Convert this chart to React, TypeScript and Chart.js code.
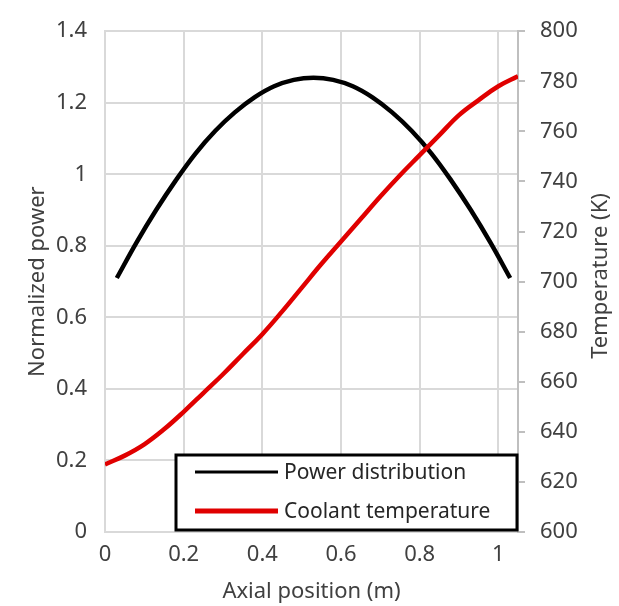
import React, { useEffect, useRef } from "react";
import { Chart, registerables } from "chart.js";

Chart.register(...registerables);

const powerX = [0.03, 0.08, 0.13, 0.18, 0.23, 0.28, 0.33, 0.38, 0.43, 0.48, 0.53, 0.58, 0.63, 0.68, 0.73, 0.78, 0.83, 0.88, 0.93, 0.98, 1.03];
const powerY = [0.71, 0.809, 0.9, 0.983, 1.058, 1.121, 1.173, 1.215, 1.246, 1.264, 1.27, 1.264, 1.246, 1.215, 1.173, 1.121, 1.058, 0.983, 0.9, 0.809, 0.71];

const tempX = [0, 0.05, 0.1, 0.15, 0.2, 0.25, 0.3, 0.35, 0.4, 0.45, 0.5, 0.55, 0.6, 0.65, 0.7, 0.75, 0.8, 0.85, 0.9, 0.95, 1.0, 1.05];
const tempY = [627, 630.5, 635, 641, 648, 655.5, 663, 671, 679, 688, 697.5, 707, 716, 725, 734, 742.5, 750.5, 758.5, 766.5, 772.5, 778, 782];

const seriesLabels = ["Power distribution", "Coolant temperature"];
const xTitle = "Axial position (m)";
const yTitle = "Normalized power";
const y1Title = "Temperature (K)";

const FONT = "'Noto Sans', sans-serif";

const legendPlugin = {
  id: "boxLegend",
  afterDraw(chart: any) {
    const ctx = chart.ctx;
    const area = chart.chartArea;
    const x0 = 176, y0 = 455;
    const x1 = area.right - 1, y1 = area.bottom - 2;
    ctx.save();
    ctx.fillStyle = "#ffffff";
    ctx.fillRect(x0, y0, x1 - x0, y1 - y0);
    ctx.lineWidth = 3;
    ctx.strokeStyle = "#000000";
    ctx.strokeRect(x0, y0, x1 - x0, y1 - y0);
    const rows = [472, 511];
    chart.data.datasets.forEach((ds: any, i: number) => {
      ctx.beginPath();
      ctx.strokeStyle = ds.borderColor;
      ctx.lineWidth = i === 0 ? 3 : 5;
      ctx.moveTo(195, rows[i]);
      ctx.lineTo(278, rows[i]);
      ctx.stroke();
      ctx.fillStyle = "#262626";
      ctx.font = `21px ${FONT}`;
      ctx.textBaseline = "middle";
      ctx.textAlign = "left";
      ctx.fillText(ds.label, 284, rows[i] + 1);
    });
    // right axis title, reading bottom-to-top
    ctx.translate(601, 276);
    ctx.rotate(-Math.PI / 2);
    ctx.fillStyle = "#404040";
    ctx.font = `22px ${FONT}`;
    ctx.textAlign = "center";
    ctx.textBaseline = "middle";
    ctx.fillText(y1Title, 0, 0);
    ctx.restore();
  },
};

export default function App() {
  const ref = useRef<HTMLCanvasElement | null>(null);

  useEffect(() => {
    if (!ref.current) return;
    const gridColor = "#d9d9d9";
    const tickColor = "#404040";
    const chart = new Chart(ref.current, {
      type: "line",
      data: {
        datasets: [
          {
            label: seriesLabels[0],
            data: powerX.map((x, i) => ({ x, y: powerY[i] })),
            borderColor: "#000000",
            borderWidth: 4.5,
            pointRadius: 0,
            tension: 0.4,
            yAxisID: "y",
            order: 2,
          },
          {
            label: seriesLabels[1],
            data: tempX.map((x, i) => ({ x, y: tempY[i] })),
            borderColor: "#e00000",
            borderWidth: 4.5,
            pointRadius: 0,
            tension: 0.4,
            yAxisID: "y1",
            order: 1,
          },
        ],
      },
      options: {
        animation: false,
        responsive: false,
        layout: { padding: { top: 27, left: 0, right: 0, bottom: 0 } },
        plugins: { legend: { display: false }, tooltip: { enabled: false } },
        scales: {
          x: {
            type: "linear",
            min: 0,
            max: 1.05,
            afterFit: (s: any) => {
              s.height = 74;
            },
            ticks: {
              stepSize: 0.2,
              includeBounds: false,
              autoSkip: false,
              font: { family: FONT, size: 22 },
              color: tickColor,
              padding: 10,
              maxRotation: 0,
              callback: (v: any) => String(Math.round(Number(v) * 10) / 10),
            },
            grid: { color: gridColor, lineWidth: 2, drawTicks: false },
            border: { color: gridColor, width: 2 },
            title: {
              display: true,
              text: xTitle,
              font: { family: FONT, size: 22 },
              color: tickColor,
              padding: { top: 0, bottom: 1 },
            },
          },
          y: {
            type: "linear",
            position: "left",
            min: 0,
            max: 1.4,
            afterFit: (s: any) => {
              s.width = 105;
            },
            ticks: {
              stepSize: 0.2,
              font: { family: FONT, size: 22 },
              color: tickColor,
              padding: 18,
              callback: (v: any) => String(Math.round(Number(v) * 10) / 10),
            },
            grid: { color: gridColor, lineWidth: 2, drawTicks: false },
            border: { color: gridColor, width: 2 },
            title: {
              display: true,
              text: yTitle,
              font: { family: FONT, size: 22 },
              color: tickColor,
              padding: { top: 25, bottom: 0 },
            },
          },
          y1: {
            type: "linear",
            position: "right",
            min: 600,
            max: 800,
            afterFit: (s: any) => {
              s.width = 101;
            },
            ticks: {
              stepSize: 20,
              font: { family: FONT, size: 22 },
              color: tickColor,
              padding: 15,
            },
            grid: {
              drawOnChartArea: false,
              drawTicks: true,
              tickLength: 7,
              color: "#bfbfbf",
              lineWidth: 2,
            },
            border: { color: "#bfbfbf", width: 2 },
          },
        },
      },
      plugins: [legendPlugin],
    } as any);
    return () => chart.destroy();
  }, []);

  return (
    <div style={{ position: "absolute", left: 0, top: 0, width: 619, height: 606, background: "#fff" }}>
      <canvas ref={ref} width={619} height={606} style={{ display: "block" }} />
    </div>
  );
}
